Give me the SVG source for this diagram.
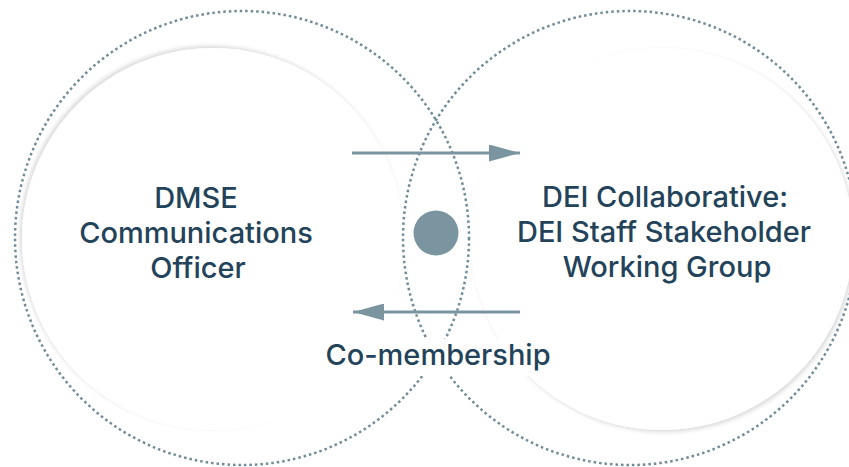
<svg xmlns="http://www.w3.org/2000/svg" width="849" height="467" viewBox="0 0 849 467">
<defs>
<style>
.dot{fill:none;stroke:#6f8b97;stroke-width:2.5;stroke-dasharray:2.5 3}
.inner{fill:#fff}
.lbl{font-family:Inter,"Liberation Sans",sans-serif;font-size:29px;font-weight:500;fill:#23435a;text-anchor:middle}
.conn{stroke:#7a959f;stroke-width:3;fill:none}
</style>
<filter id="shL" x="-10%" y="-10%" width="120%" height="120%">
<feDropShadow dx="-2" dy="-2" stdDeviation="2" flood-color="#000" flood-opacity="0.15"/>
</filter>
<filter id="shR" x="-10%" y="-10%" width="120%" height="120%">
<feDropShadow dx="2" dy="2" stdDeviation="2" flood-color="#000" flood-opacity="0.15"/>
</filter>
<marker id="ah" viewBox="0 0 31 17" refX="31" refY="8.5" markerWidth="31" markerHeight="17" markerUnits="userSpaceOnUse" orient="auto">
<path d="M0,0 L31,8.5 L0,17 z" fill="#7a959f"/>
</marker>
</defs>
<rect width="849" height="467" fill="#fff"/>
<g id="node-left">
<circle class="inner" cx="213" cy="239" r="191" filter="url(#shL)"/>
<circle class="dot" cx="242" cy="238" r="227"/>
<text class="lbl" x="196" y="208">DMSE</text>
<text class="lbl" x="196" y="243">Communications</text>
<text class="lbl" x="198" y="278">Officer</text>
</g>
<g id="node-right">
<circle class="inner" cx="662" cy="239" r="191" filter="url(#shR)"/>
<circle class="dot" cx="630" cy="238" r="227"/>
<text class="lbl" x="665" y="207">DEI Collaborative:</text>
<text class="lbl" x="664" y="242">DEI Staff Stakeholder</text>
<text class="lbl" x="667" y="277">Working Group</text>
</g>
<g id="node-overlap">
<circle cx="436" cy="233" r="22.5" fill="#7a959f"/>
</g>
<g id="connectors">
<line class="conn" x1="352" y1="153" x2="520" y2="153" marker-end="url(#ah)"/>
<line class="conn" x1="520" y1="312" x2="353" y2="312" marker-end="url(#ah)"/>
</g>
<g id="label-comembership">
<rect x="328" y="339" width="222" height="37" fill="#fff"/>
<text class="lbl" x="438" y="365">Co-membership</text>
</g>
</svg>
